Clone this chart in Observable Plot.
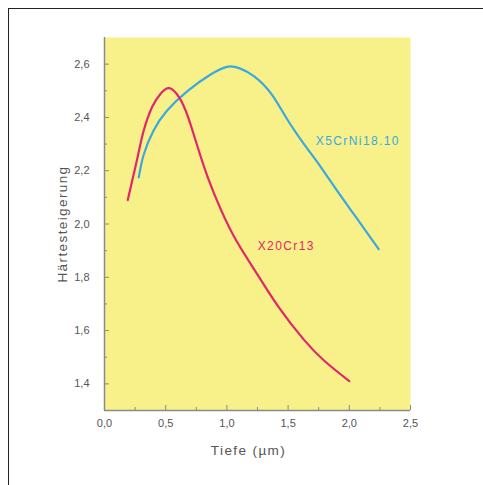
<!DOCTYPE html>
<html>
<head>
<meta charset="utf-8">
<script src="https://cdn.jsdelivr.net/npm/d3@7"></script>
<script src="https://cdn.jsdelivr.net/npm/@observablehq/plot@0.6"></script>
<style>
  html, body { margin: 0; padding: 0; background: #fff; }
  #wrap { position: relative; width: 483px; height: 485px; overflow: hidden; }
  #border { position: absolute; left: 8px; top: 8px; width: 600px; height: 600px;
            border-top: 1.5px solid #222; border-left: 1.5px solid #222; }
  #chart { position: absolute; left: 0; top: 0; }
</style>
</head>
<body>
<div id="wrap"><div id="border"></div><div id="chart"></div></div>
<script>
// X20Cr13 (red)
const redX = [0.19, 0.27, 0.32, 0.39, 0.46, 0.53, 0.61, 0.68, 0.75, 0.84, 0.95, 1.08, 1.25, 1.42, 1.63, 1.80, 2.00];
const redY = [2.09, 2.25, 2.35, 2.44, 2.49, 2.51, 2.475, 2.405, 2.305, 2.18, 2.055, 1.935, 1.81, 1.69, 1.565, 1.485, 1.41];
// X5CrNi18.10 (blue)
const blueX = [0.28, 0.32, 0.40, 0.51, 0.68, 0.87, 1.00, 1.10, 1.22, 1.36, 1.49, 1.63, 1.77, 1.90, 2.04, 2.24];
const blueY = [2.175, 2.26, 2.35, 2.425, 2.50, 2.562, 2.59, 2.585, 2.555, 2.49, 2.395, 2.30, 2.212, 2.125, 2.035, 1.906];

const xMajor = [0, 0.5, 1.0, 1.5, 2.0, 2.5];
const xMinor = [0.25, 0.75, 1.25, 1.75, 2.25];
const yMajor = [1.4, 1.6, 1.8, 2.0, 2.2, 2.4, 2.6];
const yMinor = [1.5, 1.7, 1.9, 2.1, 2.3, 2.5];

const labels = [
  {x: 2.07, y: 2.31, text: "X5CrNi18.10", series: "blue"},
  {x: 1.485, y: 1.915, text: "X20Cr13", series: "red"}
];

const colors = {red: "#e2266c", blue: "#3aa9de"};
const red = redX.map((x, i) => ({x, y: redY[i]}));
const blue = blueX.map((x, i) => ({x, y: blueY[i]}));
const fmt = d => d.toFixed(1).replace(".", ",");
const axisColor = "#8a8a8a";
const textColor = "#555";

const chart = Plot.plot({
  width: 483,
  height: 485,
  marginLeft: 104,
  marginRight: 73,
  marginTop: 37,
  marginBottom: 75,
  style: {fontFamily: "'Liberation Sans', Arial, sans-serif", fontSize: "11px", color: textColor, background: "transparent"},
  x: {domain: [0, 2.5]},
  y: {domain: [1.3, 2.7]},
  marks: [
    Plot.frame({fill: "#f8f089", stroke: null}),
    Plot.axisX({ticks: xMajor, tickSize: 0, tickPadding: 9, tickFormat: fmt, label: null, fill: textColor}),
    Plot.axisX({ticks: xMajor, tickSize: -5, text: null, label: null, stroke: axisColor}),
    Plot.axisX({ticks: xMinor, tickSize: -3, text: null, label: null, stroke: axisColor}),
    Plot.axisY({ticks: yMajor, tickSize: 0, tickPadding: 15, tickFormat: fmt, label: null, fill: textColor}),
    Plot.axisY({ticks: yMajor, tickSize: -5, text: null, label: null, stroke: axisColor}),
    Plot.axisY({ticks: yMinor, tickSize: -3, text: null, label: null, stroke: axisColor}),
    Plot.ruleX([0], {stroke: axisColor, strokeWidth: 1.5}),
    Plot.ruleY([1.3], {stroke: axisColor, strokeWidth: 1.5}),
    Plot.line(blue, {x: "x", y: "y", stroke: colors.blue, strokeWidth: 2.2, curve: "natural"}),
    Plot.line(red, {x: "x", y: "y", stroke: colors.red, strokeWidth: 2.2, curve: "natural"}),
    Plot.text(labels, {x: "x", y: "y", text: "text", fill: d => colors[d.series], fontSize: 12}),
    Plot.text(["Tiefe (µm)"], {frameAnchor: "bottom", textAnchor: "middle", lineAnchor: "middle", dy: 40, dx: -9, fill: textColor, fontSize: 13.5}),
    Plot.text(["Härtesteigerung"], {frameAnchor: "left", textAnchor: "middle", lineAnchor: "middle", dx: -42, dy: 0, rotate: -90, fill: textColor, fontSize: 13.5})
  ]
});
d3.select(chart).selectAll('g[aria-label="text"] text').style("letter-spacing", "1.4px");
document.getElementById("chart").appendChild(chart);
</script>
</body>
</html>
